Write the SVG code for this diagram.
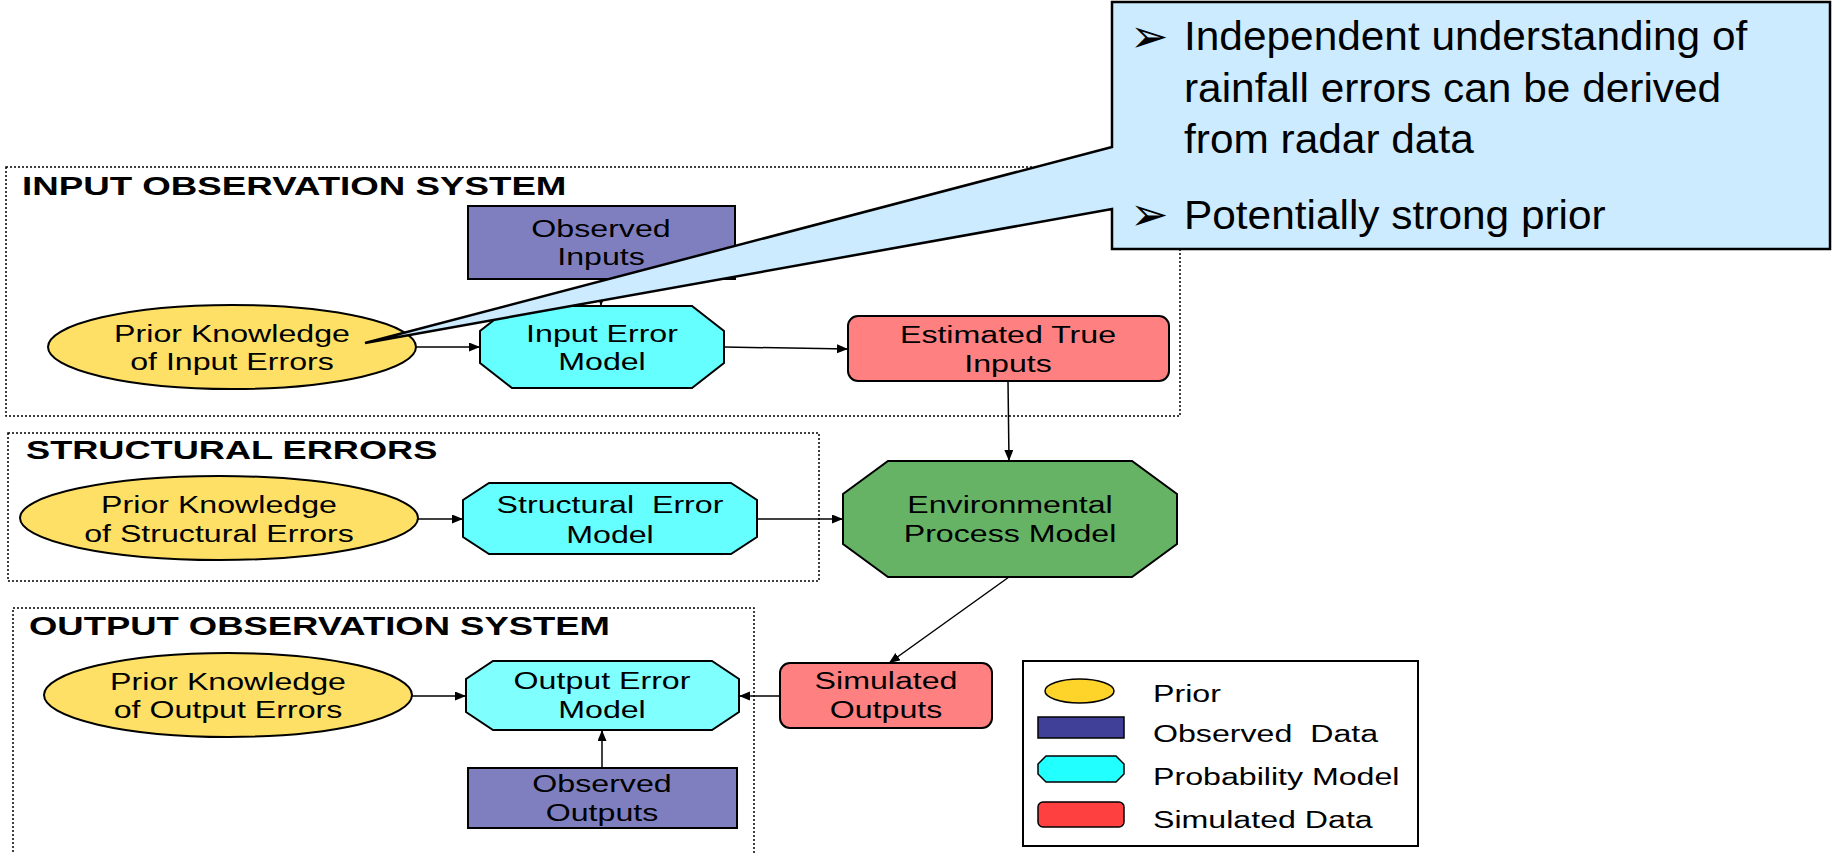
<svg xmlns="http://www.w3.org/2000/svg" width="1836" height="853" viewBox="0 0 1836 853">
  <style>
    .frame { fill: none; stroke: #000; stroke-width: 1.5; stroke-dasharray: 2 2; }
    .title { font-family: "Liberation Sans", Arial, sans-serif; font-weight: bold; font-size: 26.6px; fill: #000; }
    .lbl { font-family: "Liberation Sans", Arial, sans-serif; font-size: 23.3px; fill: #000; text-anchor: middle; }
    .leg { font-family: "Liberation Sans", Arial, sans-serif; font-size: 23.3px; fill: #000; }
    .note { font-family: "Liberation Sans", Arial, sans-serif; font-size: 40px; fill: #000; }
    .bullet { font-family: "DejaVu Sans", sans-serif; font-size: 46px; fill: #000; }
    .prior { fill: #FFE066; stroke: #000; stroke-width: 2; }
    .obs { fill: #7F7FBF; stroke: #000; stroke-width: 2; }
    .prob { fill: #66FFFF; stroke: #000; stroke-width: 2; }
    .sim { fill: #FF8080; stroke: #000; stroke-width: 2; }
    .env { fill: #66B366; stroke: #000; stroke-width: 2; }
    .conn line { stroke: #000; stroke-width: 1.5; marker-end: url(#arrow); }
  </style>
  <defs>
    <marker id="arrow" markerUnits="userSpaceOnUse" markerWidth="12" markerHeight="10" refX="11" refY="4.5" orient="auto">
      <path d="M0,0 L11,4.5 L0,9 Z" fill="#000"/>
    </marker>
  </defs>

  <rect width="1836" height="853" fill="#fff"/>

  <!-- section frames -->
  <g id="input-system">
    <rect class="frame" x="6" y="167" width="1174" height="249"/>
    <text class="title" transform="translate(22 195) scale(1.38 1)">INPUT OBSERVATION SYSTEM</text>
  </g>
  <g id="structural-errors">
    <rect class="frame" x="8" y="433" width="811" height="148"/>
    <text class="title" transform="translate(26 459) scale(1.36 1)">STRUCTURAL ERRORS</text>
  </g>
  <g id="output-system">
    <path class="frame" d="M13,860 V608 H754 V860"/>
    <text class="title" transform="translate(29 635) scale(1.37 1)">OUTPUT OBSERVATION SYSTEM</text>
  </g>

  <!-- connectors -->
  <g id="connectors" class="conn">
    <line x1="416" y1="347" x2="480" y2="347"/>
    <line x1="724" y1="347" x2="848" y2="349"/>
    <line x1="601" y1="279" x2="601" y2="306"/>
    <line x1="1008" y1="381" x2="1009" y2="461"/>
    <line x1="418" y1="519" x2="463" y2="519"/>
    <line x1="757" y1="519" x2="843" y2="519"/>
    <line x1="1009" y1="577" x2="889" y2="663"/>
    <line x1="412" y1="696" x2="466" y2="696"/>
    <line x1="780" y1="696" x2="739" y2="696"/>
    <line x1="602" y1="768" x2="602" y2="730"/>
  </g>

  <!-- input observation nodes -->
  <g id="observed-inputs">
    <rect class="obs" x="468" y="206" width="267" height="73"/>
    <text class="lbl" transform="translate(601 237) scale(1.38 1)">Observed</text>
    <text class="lbl" transform="translate(601 265) scale(1.38 1)">Inputs</text>
  </g>
  <g id="prior-input-errors">
    <ellipse class="prior" cx="232" cy="347" rx="184" ry="42"/>
    <text class="lbl" transform="translate(232 342) scale(1.38 1)">Prior Knowledge</text>
    <text class="lbl" transform="translate(232 370) scale(1.38 1)">of Input Errors</text>
  </g>
  <g id="input-error-model">
    <polygon class="prob" points="512,306 692,306 724,331 724,363 692,388 512,388 480,363 480,331"/>
    <text class="lbl" transform="translate(602 342) scale(1.38 1)">Input Error</text>
    <text class="lbl" transform="translate(602 370) scale(1.38 1)">Model</text>
  </g>
  <g id="estimated-true-inputs">
    <rect class="sim" x="848" y="316" width="321" height="65" rx="10"/>
    <text class="lbl" transform="translate(1008 343) scale(1.38 1)">Estimated True</text>
    <text class="lbl" transform="translate(1008 372) scale(1.38 1)">Inputs</text>
  </g>

  <!-- structural nodes -->
  <g id="prior-structural-errors">
    <ellipse class="prior" cx="219" cy="518" rx="199" ry="42"/>
    <text class="lbl" transform="translate(219 513) scale(1.38 1)">Prior Knowledge</text>
    <text class="lbl" transform="translate(219 542) scale(1.38 1)">of Structural Errors</text>
  </g>
  <g id="structural-error-model">
    <polygon class="prob" points="489,483 731,483 757,500 757,537 731,554 489,554 463,537 463,500"/>
    <text class="lbl" xml:space="preserve" transform="translate(610 513) scale(1.38 1)">Structural  Error</text>
    <text class="lbl" transform="translate(610 543) scale(1.38 1)">Model</text>
  </g>
  <g id="environmental-process-model">
    <polygon class="env" points="888,461 1132,461 1177,494 1177,544 1132,577 888,577 843,544 843,494"/>
    <text class="lbl" transform="translate(1010 513) scale(1.38 1)">Environmental</text>
    <text class="lbl" transform="translate(1010 542) scale(1.38 1)">Process Model</text>
  </g>

  <!-- output observation nodes -->
  <g id="prior-output-errors">
    <ellipse class="prior" cx="228" cy="695" rx="184" ry="42"/>
    <text class="lbl" transform="translate(228 690) scale(1.38 1)">Prior Knowledge</text>
    <text class="lbl" transform="translate(228 718) scale(1.38 1)">of Output Errors</text>
  </g>
  <g id="output-error-model">
    <polygon class="prob" style="fill:#80FFFF" points="493,661 712,661 739,679 739,712 712,730 493,730 466,712 466,679"/>
    <text class="lbl" transform="translate(602 689) scale(1.38 1)">Output Error</text>
    <text class="lbl" transform="translate(602 718) scale(1.38 1)">Model</text>
  </g>
  <g id="observed-outputs">
    <rect class="obs" x="468" y="768" width="269" height="60"/>
    <text class="lbl" transform="translate(602 792) scale(1.38 1)">Observed</text>
    <text class="lbl" transform="translate(602 821) scale(1.38 1)">Outputs</text>
  </g>
  <g id="simulated-outputs">
    <rect class="sim" x="780" y="663" width="212" height="65" rx="10"/>
    <text class="lbl" transform="translate(886 689) scale(1.38 1)">Simulated</text>
    <text class="lbl" transform="translate(886 718) scale(1.38 1)">Outputs</text>
  </g>

  <!-- legend -->
  <g id="legend">
    <rect x="1023" y="661" width="395" height="185" fill="#fff" stroke="#000" stroke-width="2"/>
    <ellipse cx="1079.5" cy="691" rx="34.5" ry="12" fill="#FFD42A" stroke="#000" stroke-width="1.5"/>
    <rect x="1038" y="717" width="86" height="21" fill="#404099" stroke="#000" stroke-width="1.5"/>
    <polygon points="1046,756 1116,756 1124,764 1124,774 1116,782 1046,782 1038,774 1038,764" fill="#22FFFF" stroke="#000" stroke-width="1.5"/>
    <rect x="1038" y="802" width="86" height="25" rx="5" fill="#FF4040" stroke="#000" stroke-width="1.5"/>
    <text class="leg" transform="translate(1153 702) scale(1.38 1)">Prior</text>
    <text class="leg" xml:space="preserve" transform="translate(1153 742) scale(1.38 1)">Observed  Data</text>
    <text class="leg" transform="translate(1153 785) scale(1.38 1)">Probability Model</text>
    <text class="leg" transform="translate(1153 828) scale(1.38 1)">Simulated Data</text>
  </g>

  <!-- callout with pointer to the input-error prior -->
  <g id="callout">
    <path d="M1112,2 H1830 V249 H1112 V209 L365,343 L1112,147 Z" fill="#CCEBFF" stroke="#000" stroke-width="2.5" stroke-linejoin="miter"/>
    <text class="bullet" x="1130" y="52">➢</text>
    <text class="note" transform="translate(1184 50) scale(1.06 1)">Independent understanding of</text>
    <text class="note" transform="translate(1184 102) scale(1.06 1)">rainfall errors can be derived</text>
    <text class="note" transform="translate(1184 153) scale(1.06 1)">from radar data</text>
    <text class="bullet" x="1130" y="230">➢</text>
    <text class="note" transform="translate(1184 229) scale(1.06 1)">Potentially strong prior</text>
  </g>
</svg>
